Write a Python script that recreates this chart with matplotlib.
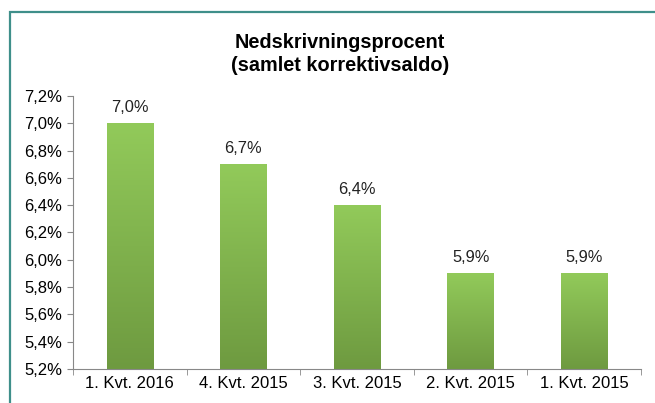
import numpy as np
import matplotlib
matplotlib.use("Agg")
import matplotlib.pyplot as plt
from matplotlib.colors import LinearSegmentedColormap
from matplotlib.patches import Rectangle

plt.rcParams['font.family'] = ['Liberation Sans', 'DejaVu Sans']

kategorier = ["1. Kvt. 2016", "4. Kvt. 2015", "3. Kvt. 2015", "2. Kvt. 2015", "1. Kvt. 2015"]
vaerdier = [7.0, 6.7, 6.4, 5.9, 5.9]
y_ticks = [5.2, 5.4, 5.6, 5.8, 6.0, 6.2, 6.4, 6.6, 6.8, 7.0, 7.2]

fig = plt.figure(figsize=(6.55, 4.03), dpi=100)
ax = fig.add_axes([0.1115, 0.0844, 0.8671, 0.6774])

# ramme om figuren (beskaaret i hoejre og nederste side)
fig.patches.append(Rectangle((10 / 655, -0.1), 1.2, 1.1 - 12 / 403, transform=fig.transFigure,
                             fill=False, edgecolor='#3f8f8a', linewidth=1.6))

grad = LinearSegmentedColormap.from_list("gr", ["#6e9a40", "#92ca5a"])
x = np.arange(len(kategorier))
bars = ax.bar(x, vaerdier, width=0.41, bottom=0, color='none', zorder=2)
for b, v in zip(bars, vaerdier):
    x0 = b.get_x()
    w = b.get_width()
    img = ax.imshow(np.linspace(0, 1, 256).reshape(-1, 1), cmap=grad, origin='lower',
                    extent=[x0, x0 + w, 5.2, v], aspect='auto', zorder=2)
    img.set_clip_path(b)
    ax.text(x0 + w / 2, v + 0.06, f"{v:.1f}%".replace('.', ','), ha='center', va='bottom',
            fontsize=11.8, color='#222222')

ax.set_xlim(-0.5, len(kategorier) - 0.5)
ax.set_ylim(5.2, 7.2)
ax.set_yticks(y_ticks)
ax.set_yticklabels([f"{t:.1f}%".replace('.', ',') for t in y_ticks], fontsize=12)
ax.set_xticks(x)
ax.set_xticklabels(kategorier, fontsize=12)
ax.set_xticks(np.arange(len(kategorier) + 1) - 0.5, minor=True)
ax.tick_params(axis='x', which='major', length=0, pad=5)
ax.tick_params(axis='x', which='minor', length=4, color='#888888')
ax.tick_params(axis='y', length=4, color='#888888', pad=4)

for s in ['top', 'right']:
    ax.spines[s].set_visible(False)
for s in ['left', 'bottom']:
    ax.spines[s].set_color('#888888')

fig.text(0.519, 0.866, "Nedskrivningsprocent\n(samlet korrektivsaldo)", ha='center', va='center',
         fontsize=14.3, fontweight='bold', linespacing=1.3)

fig.savefig("out.png", dpi=100)
